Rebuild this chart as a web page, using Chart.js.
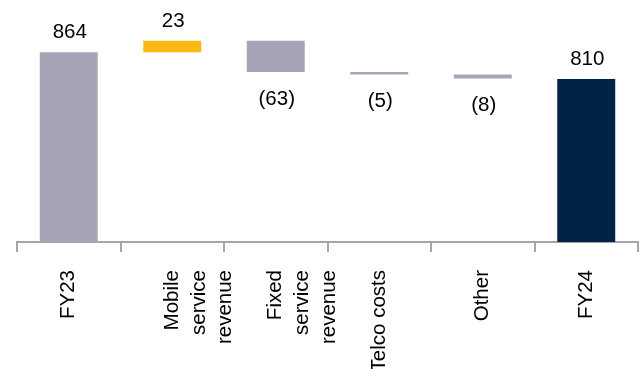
<!DOCTYPE html>
<html>
<head>
<meta charset="utf-8">
<script src="https://cdn.jsdelivr.net/npm/chart.js@4"></script>
<style>
  body { margin: 0; background: #fff; overflow: hidden; }
  canvas { display: block; }
</style>
</head>
<body>
<canvas id="bridge-chart" width="642" height="369"></canvas>
<script>
// Data
const categories = ['FY23', ['Mobile', 'service', 'revenue'], ['Fixed', 'service', 'revenue'], 'Telco costs', 'Other', 'FY24'];
const startValue = 864;
const changes = [23, -63, -5, -8];
const endValue = 810;
const axisMin = 482;
const axisMax = 969;

const GREY = '#a6a5b8';
const YELLOW = '#fdb913';
const NAVY = '#002244';

// build bar data: totals are plain values, changes float from running total
const barData = [startValue];
const barLabels = [String(startValue)];
const barColors = [GREY];
let running = startValue;
changes.forEach(c => {
    barData.push([running, running + c]);
    barLabels.push(c < 0 ? '(' + Math.abs(c) + ')' : String(c));
    barColors.push(c > 0 ? YELLOW : GREY);
    running += c;
});
barData.push(endValue);
barLabels.push(String(endValue));
barColors.push(NAVY);

const valueLabels = {
    id: 'valueLabels',
    afterDatasetsDraw(chart) {
        const ctx = chart.ctx;
        const meta = chart.getDatasetMeta(0);
        ctx.save();
        ctx.font = '20.5px "Liberation Sans", Arial, sans-serif';
        ctx.fillStyle = '#000';
        ctx.textAlign = 'center';
        meta.data.forEach((bar, i) => {
            const top = Math.min(bar.y, bar.base);
            const bottom = Math.max(bar.y, bar.base);
            const isNeg = i > 0 && i <= changes.length && changes[i - 1] < 0;
            if (isNeg) {
                ctx.textBaseline = 'top';
                ctx.fillText(barLabels[i], bar.x + 1, bottom + 17);
            } else {
                ctx.textBaseline = 'alphabetic';
                ctx.fillText(barLabels[i], bar.x + 1, top - 14);
            }
        });
        ctx.restore();
    }
};

const ctx = document.getElementById('bridge-chart').getContext('2d');
new Chart(ctx, {
    type: 'bar',
    data: {
        labels: categories,
        datasets: [{
            data: barData,
            backgroundColor: barColors,
            borderWidth: 0,
            categoryPercentage: 1,
            barPercentage: 0.56
        }]
    },
    options: {
        responsive: false,
        animation: false,
        layout: { padding: { left: 17, right: 4, top: 0, bottom: 0 } },
        scales: {
            x: {
                afterFit(scale) { scale.height = 127; },
                grid: {
                    drawOnChartArea: false,
                    drawTicks: true,
                    tickLength: 10,
                    tickColor: '#a6a6a6',
                    lineWidth: 2
                },
                border: { display: true, color: '#a6a6a6', width: 2 },
                ticks: {
                    autoSkip: false,
                    minRotation: 90,
                    maxRotation: 90,
                    padding: 18,
                    color: '#000',
                    font: { family: '"Liberation Sans", Arial, sans-serif', size: 20.5, lineHeight: 1.3 }
                }
            },
            y: {
                display: false,
                min: axisMin,
                max: axisMax
            }
        },
        plugins: {
            legend: { display: false },
            tooltip: { enabled: false }
        }
    },
    plugins: [valueLabels]
});
</script>
</body>
</html>
